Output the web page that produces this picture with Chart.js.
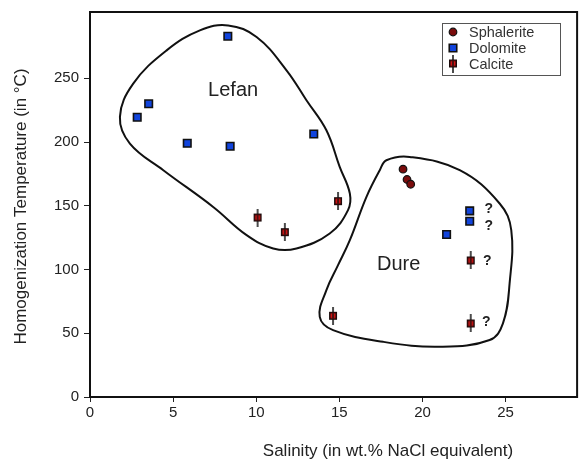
<!DOCTYPE html>
<html><head><meta charset="utf-8">
<style>html,body{margin:0;padding:0;background:#fff;overflow:hidden}#wrap{width:579px;height:461px;overflow:hidden}</style>
<script src="https://cdn.jsdelivr.net/npm/chart.js@4"></script>
</head><body>
<div id="wrap"><canvas id="c" width="584" height="461"></canvas></div>
<script>
// ---- data ----
const sphaleriteSalinity = [18.83, 19.07, 19.29];
const sphaleriteTemp     = [178.7, 170.6, 166.9];
const dolomiteSalinity = [8.29, 3.53, 2.84, 5.85, 8.43, 13.46, 22.84, 22.84, 21.45];
const dolomiteTemp     = [283, 230, 219.4, 199, 196.7, 206.3, 146, 137.9, 127.5];
const calciteSalinity = [10.08, 11.72, 14.92, 22.9, 14.62, 22.9];
const calciteTemp     = [140.8, 129.3, 153.6, 107.1, 63.7, 57.7];
// envelope outlines (closed curves)
const lefanSalinity = [13.02,14.22,15.02,15.63,15.52,14.42,12.42,11.02,9.42,7.41,4.41,2.40,1.80,2.60,4.61,6.61,8.31,10.02,11.82,13.02];
const lefanTemp     = [232.8,209.2,180.5,159.6,146.6,128.3,116.5,116.5,127.0,149.1,177.9,198.8,219.7,245.8,271.9,287.6,291.5,282.4,256.3,232.8];
const dureSalinity = [14.92,15.63,16.63,17.43,17.83,19.23,22.24,24.64,25.34,25.24,24.84,24.04,21.03,17.63,14.62,13.82,14.22,14.92];
const dureTemp     = [103.4,123.0,157.0,177.9,185.7,188.3,177.9,151.8,130.9,89.1,57.8,44.7,39.4,43.3,52.5,62.9,83.9,103.4];
const xTicks = [0, 5, 10, 15, 20, 25];
const yTicks = [0, 50, 100, 150, 200, 250];
const labelTexts = ['Lefan', 'Dure', '?', '?', '?', '?'];
const labelSalinity = [8.61, 18.57, 23.98, 23.98, 23.9, 23.84];
const labelTemp = [240.6, 104, 147.1, 134, 106.8, 58.5];
const seriesNames = ['Sphalerite', 'Dolomite', 'Calcite'];

const pts = (xs, ys) => xs.map((x, i) => ({x, y: ys[i]}));

function makeCalcite() {
  const c = document.createElement('canvas');
  c.width = 10; c.height = 18;
  const g = c.getContext('2d');
  g.strokeStyle = '#111'; g.lineWidth = 1.5;
  g.beginPath(); g.moveTo(5, 0); g.lineTo(5, 18); g.stroke();
  g.fillStyle = '#1a0a0a'; g.fillRect(1, 5, 8, 8);
  g.fillStyle = '#d41414'; g.fillRect(2.5, 6.5, 5, 5);
  g.fillStyle = '#111'; g.fillRect(4.3, 6.5, 1.4, 5);
  return c;
}
const calciteImg = makeCalcite();

const FONT = "'Liberation Sans', Arial, sans-serif";

const styles = [
  {pointStyle: 'circle', radius: 3.8, bg: '#7a0c0c', border: '#111', bw: 1.2},
  {pointStyle: 'rect', radius: 5.3, bg: '#1144dd', border: '#111', bw: 1.6},
  {pointStyle: calciteImg, radius: 5, bg: '#d41414', border: '#111', bw: 1}
];

const extras = {
  id: 'extras',
  afterDraw(chart) {
    const ctx = chart.ctx, a = chart.chartArea;
    const xs = chart.scales.x, ys = chart.scales.y;
    ctx.save();
    // frame
    ctx.strokeStyle = '#111'; ctx.lineWidth = 2;
    ctx.strokeRect(a.left, a.top, a.right - a.left, a.bottom - a.top);
    // text labels
    ctx.fillStyle = '#222'; ctx.textAlign = 'center'; ctx.textBaseline = 'middle';
    labelTexts.forEach((t, i) => {
      ctx.font = (t === '?' ? 'bold 14px ' : '20px ') + FONT;
      ctx.fillText(t, xs.getPixelForValue(labelSalinity[i]), ys.getPixelForValue(labelTemp[i]));
    });
    // axis titles
    ctx.font = '17px ' + FONT; ctx.fillStyle = '#222';
    ctx.fillText('Salinity (in wt.% NaCl equivalent)', 388, 451);
    ctx.save(); ctx.translate(21, 206.5); ctx.rotate(-Math.PI / 2);
    ctx.fillText('Homogenization Temperature (in °C)', 0, 0);
    ctx.restore();
    // legend
    ctx.fillStyle = '#fff'; ctx.strokeStyle = '#555'; ctx.lineWidth = 1;
    ctx.fillRect(442, 23, 118, 52); ctx.strokeRect(442.5, 23.5, 118, 52);
    const ly = [32, 48, 63.5];
    ctx.font = '14.5px ' + FONT; ctx.textAlign = 'left';
    seriesNames.forEach((n, i) => {
      const s = styles[i];
      ctx.fillStyle = s.bg; ctx.strokeStyle = s.border; ctx.lineWidth = s.bw;
      Chart.helpers.drawPoint(ctx, {pointStyle: s.pointStyle, radius: s.radius, rotation: 0, borderWidth: s.bw}, 453, ly[i]);
      ctx.fillStyle = '#333';
      ctx.fillText(n, 469, ly[i] + 1);
    });
    ctx.restore();
  }
};

const envelope = (xs, ys) => ({
  type: 'line', data: pts(xs, ys), showLine: true, fill: false, tension: 0.4,
  borderColor: '#111', borderWidth: 2, pointRadius: 0, order: 10, parsing: false
});

new Chart(document.getElementById('c'), {
  type: 'scatter',
  data: {
    datasets: [
      envelope(lefanSalinity, lefanTemp),
      envelope(dureSalinity, dureTemp),
      ...seriesNames.map((n, i) => ({
        label: n,
        data: [pts(sphaleriteSalinity, sphaleriteTemp), pts(dolomiteSalinity, dolomiteTemp), pts(calciteSalinity, calciteTemp)][i],
        pointStyle: styles[i].pointStyle, pointRadius: styles[i].radius,
        backgroundColor: styles[i].bg, borderColor: styles[i].border, borderWidth: styles[i].bw,
        order: 1
      }))
    ]
  },
  options: {
    responsive: false, animation: false, devicePixelRatio: 1,
    layout: {padding: {top: 12, right: 1, left: 0, bottom: 0}},
    plugins: {legend: {display: false}, tooltip: {enabled: false}},
    scales: {
      x: {
        type: 'linear', min: 0, max: 29.3,
        afterBuildTicks: s => { s.ticks = xTicks.map(v => ({value: v})); },
        afterFit: s => { s.height = 64; s.paddingLeft = 0; s.paddingRight = 0; },
        ticks: {font: {family: FONT, size: 15}, color: '#222', padding: 2, maxRotation: 0},
        grid: {drawOnChartArea: false, tickLength: 5, color: '#222', tickWidth: 1},
        border: {color: '#111', width: 2}
      },
      y: {
        type: 'linear', min: 0, max: 302,
        afterBuildTicks: s => { s.ticks = yTicks.map(v => ({value: v})); },
        afterFit: s => { s.width = 90; s.paddingTop = 0; s.paddingBottom = 0; },
        ticks: {font: {family: FONT, size: 15}, color: '#222', padding: 5},
        grid: {drawOnChartArea: false, tickLength: 6, color: '#222', tickWidth: 1},
        border: {color: '#111', width: 2}
      }
    }
  },
  plugins: [extras]
});
</script>
</body></html>
